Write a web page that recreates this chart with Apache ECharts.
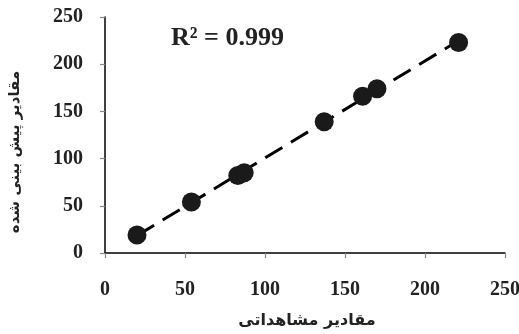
<!DOCTYPE html>
<html>
<head>
<meta charset="utf-8">
<script src="https://cdn.jsdelivr.net/npm/echarts@6/dist/echarts.min.js"></script>
<style>
  html, body { margin: 0; padding: 0; background: #fff; }
  #chart { width: 519px; height: 334px; }
</style>
</head>
<body>
<div id="chart"></div>
<script>
// Observed vs. predicted values
const observed  = [20, 54, 83, 87, 137, 161, 170, 221];
const predicted = [19, 54, 82, 85, 139, 166, 174, 223];
const xTicks = [0, 50, 100, 150, 200, 250];
const yTicks = [0, 50, 100, 150, 200, 250];
const r2Label = 'R² = 0.999';
const xTitle = 'مقادیر مشاهداتی';
const yTitle = 'مقادیر پیش بینی شده';

// least-squares trend line across the observed range
const n = observed.length;
const mx = observed.reduce((a, b) => a + b, 0) / n;
const my = predicted.reduce((a, b) => a + b, 0) / n;
let sxy = 0, sxx = 0;
for (let i = 0; i < n; i++) {
  sxy += (observed[i] - mx) * (predicted[i] - my);
  sxx += (observed[i] - mx) ** 2;
}
const slope = sxy / sxx;
const intercept = my - slope * mx;
const xMin = Math.min(...observed), xMax = Math.max(...observed);
const trend = [[xMin, intercept + slope * xMin], [xMax, intercept + slope * xMax]];

const serif = '"Liberation Serif", "Times New Roman", serif';
const persian = '"DejaVu Sans", sans-serif';

const chart = echarts.init(document.getElementById('chart'), null, { renderer: 'canvas' });
chart.setOption({
  animation: false,
  grid: { left: 105, right: 14, top: 17, bottom: 81, containLabel: false, outerBoundsMode: 'none' },
  xAxis: {
    type: 'value', min: xTicks[0], max: xTicks[xTicks.length - 1], interval: 50,
    splitLine: { show: false },
    axisLine: { lineStyle: { color: '#000', width: 1.5 } },
    axisTick: { show: true, length: 5, lineStyle: { color: '#888', width: 1.2 } },
    axisLabel: { margin: 27, color: '#222', fontFamily: serif, fontWeight: 'bold', fontSize: 20 }
  },
  yAxis: {
    type: 'value', min: yTicks[0], max: yTicks[yTicks.length - 1], interval: 50,
    splitLine: { show: false },
    axisLine: { show: true, lineStyle: { color: '#000', width: 1.5 } },
    axisTick: { show: true, length: 5, lineStyle: { color: '#888', width: 1.2 } },
    axisLabel: { margin: 22, color: '#222', fontFamily: serif, fontWeight: 'bold', fontSize: 20 }
  },
  graphic: [
    {
      type: 'text', left: 171, top: 25,
      style: { text: r2Label, font: 'bold 26px ' + serif, fill: '#222' }
    },
    {
      type: 'text', x: 307, y: 321,
      style: {
        text: xTitle, font: 'bold 16px ' + persian, fill: '#222',
        align: 'center', verticalAlign: 'middle'
      }
    },
    {
      type: 'text', x: 15, y: 152, rotation: Math.PI / 2,
      style: {
        text: yTitle, font: 'bold 15px ' + persian, fill: '#222',
        align: 'center', verticalAlign: 'middle'
      }
    }
  ],
  series: [
    {
      type: 'line', data: trend, symbol: 'none', silent: true,
      lineStyle: { color: '#000', width: 3, type: [20, 10] }, z: 1
    },
    {
      type: 'scatter', data: observed.map((x, i) => [x, predicted[i]]),
      symbol: 'circle', symbolSize: 19,
      itemStyle: { color: '#1a1a1a', opacity: 1 }, z: 2
    }
  ]
});
</script>
</body>
</html>
